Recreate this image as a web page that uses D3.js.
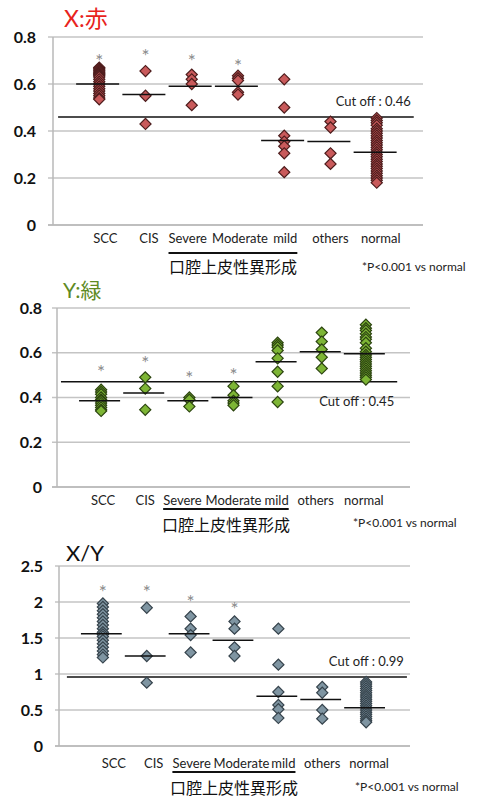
<!DOCTYPE html>
<html><head><meta charset="utf-8">
<script src="https://cdn.jsdelivr.net/npm/d3@7"></script>
<style>
body{margin:0;background:#fff;}
svg{display:block;}
text{font-family:Lato,"Noto Sans CJK JP",sans-serif;}
</style></head>
<body>
<svg id="c" width="481" height="797"></svg>
<script>
// ---------- data ----------
const categories = ["SCC","CIS","Severe","Moderate","mild","others","normal"];

// X:赤
const xSCC = [0.67,0.665,0.66,0.655,0.65,0.645,0.64,0.635,0.63,0.62,0.61,0.60,0.59,0.58,0.57,0.56,0.55,0.54,0.535];
const xCIS = [0.655,0.55,0.43];
const xSevere = [0.64,0.62,0.60,0.51];
const xModerate = [0.635,0.625,0.615,0.565,0.555];
const xMild = [0.62,0.50,0.38,0.355,0.335,0.305,0.225];
const xOthers = [0.44,0.415,0.305,0.26];
const xNormal = [0.455,0.445,0.435,0.425,0.41,0.40,0.39,0.38,0.37,0.36,0.35,0.34,0.33,0.32,0.31,0.30,0.29,0.28,0.27,0.26,0.25,0.24,0.23,0.22,0.21,0.20,0.19,0.18];
const xMeans = [0.60,0.555,0.59,0.59,0.36,0.355,0.31];
const xStars = [0.715,0.735,0.715,0.695];
const xCut = 0.46;
const xCutLabel = "Cut off :  0.46";
const xTicks = [0,0.2,0.4,0.6,0.8];

// Y:緑
const ySCC = [0.435,0.425,0.415,0.40,0.39,0.385,0.375,0.365,0.355,0.345,0.34];
const yCIS = [0.49,0.44,0.345];
const ySevere = [0.40,0.39,0.36];
const yModerate = [0.45,0.41,0.385,0.375,0.365];
const yMild = [0.645,0.635,0.625,0.61,0.575,0.515,0.45,0.38];
const yOthers = [0.69,0.65,0.615,0.58,0.53];
const yNormal = [0.725,0.71,0.70,0.685,0.67,0.66,0.645,0.62,0.605,0.59,0.58,0.57,0.56,0.55,0.54,0.53,0.52,0.51,0.50,0.49,0.48];
const yMeans = [0.385,0.42,0.385,0.40,0.56,0.605,0.595];
const yStars = [0.53,0.57,0.505,0.52];
const yCut = 0.47;
const yCutLabel = "Cut off : 0.45";
const yTicks = [0,0.2,0.4,0.6,0.8];

// X/Y
const rSCC = [1.98,1.93,1.88,1.83,1.78,1.73,1.68,1.63,1.58,1.55,1.52,1.47,1.42,1.37,1.32,1.27,1.23];
const rCIS = [1.92,1.25,0.88];
const rSevere = [1.80,1.63,1.54,1.30];
const rModerate = [1.73,1.63,1.37,1.25];
const rMild = [1.63,1.13,0.75,0.57,0.51,0.39];
const rOthers = [0.82,0.74,0.50,0.38];
const rNormal = [0.89,0.86,0.83,0.80,0.77,0.74,0.71,0.68,0.65,0.62,0.59,0.56,0.53,0.50,0.47,0.44,0.41,0.38,0.35,0.33];
const rMeans = [1.56,1.25,1.56,1.47,0.69,0.645,0.53];
const rStars = [2.2,2.19,2.06,1.96];
const rCut = 0.96;
const rCutLabel = "Cut off : 0.99";
const rTicks = [0,0.5,1,1.5,2,2.5];

const groupLabel = "口腔上皮性異形成";
const noteText = "*P<0.001 vs normal";

// ---------- layout ----------
const panels = [
  {title:"X:赤", titleColor:"#e8231d", titleX:64, titleY:27, titleSize:23,
   groups:[xSCC,xCIS,xSevere,xModerate,xMild,xOthers,xNormal], means:xMeans, stars:xStars,
   cut:xCut, cutLabel:xCutLabel, ticks:xTicks, domain:[0,0.8], fmt:d=>d===0?"0":d3.format(".1f")(d),
   yTop:37, yBot:225, axisX:53, gridL:48, right:423, tickR:36,
   cutI:[0.11,7.8], cutDy:-11, labelY:243, labelDx:[6,3.5,-4,2,1,0,4],
   ulY:253, jpY:273, noteX:362, noteY:271,
   fill:"#c95a5b", stroke:"#4d1c1c"},
  {title:"Y:緑", titleColor:"#5e8a23", titleX:63, titleY:298, titleSize:21,
   groups:[ySCC,yCIS,ySevere,yModerate,yMild,yOthers,yNormal], means:yMeans, stars:yStars,
   cut:yCut, cutLabel:yCutLabel, ticks:yTicks, domain:[0,0.8], fmt:d=>d===0?"0":d3.format(".1f")(d),
   yTop:308, yBot:487, axisX:57, gridL:52, right:410, tickR:42,
   cutI:[0.09,7.71], cutDy:24, labelY:505, labelDx:[2,0,-7,0,-1,-6,-2],
   ulY:509, jpY:531, noteX:353, noteY:527,
   fill:"#7db535", stroke:"#2c4410"},
  {title:"X/Y", titleColor:"#111", titleX:66, titleY:561, titleSize:22,
   groups:[rSCC,rCIS,rSevere,rModerate,rMild,rOthers,rNormal], means:rMeans, stars:rStars,
   cut:rCut, cutLabel:rCutLabel, ticks:rTicks, domain:[0,2.5], fmt:d=>String(d),
   yTop:566, yBot:746, axisX:59, gridL:55, right:410, tickR:43,
   cutI:[0.18,7.93], cutDy:-11, labelY:768, labelDx:[11,7,1,7,5,0,3],
   ulY:772, jpY:794, noteX:355, noteY:791,
   fill:"#7f95a2", stroke:"#36434c"}
];

const svg = d3.select("#c");
const diamond = d3.symbol().type(d3.symbolSquare).size(62);

panels.forEach(p => {
  const g = svg.append("g");
  const y = d3.scaleLinear().domain(p.domain).range([p.yBot, p.yTop]);
  const x = d3.scaleLinear().domain([0, categories.length + 1]).range([p.axisX, p.right]);
  const step = x(1) - x(0);

  // gridlines
  g.append("g").selectAll("line").data(p.ticks).join("line")
    .attr("x1", p.gridL).attr("x2", p.right)
    .attr("y1", d => y(d)).attr("y2", d => y(d))
    .attr("stroke", d => d === 0 ? "#aaa" : "#c4c4c4").attr("stroke-width", 1.5);
  // vertical axis
  g.append("line").attr("x1", p.axisX).attr("x2", p.axisX)
    .attr("y1", y(p.domain[1])).attr("y2", y(0))
    .attr("stroke", "#b8b8b8").attr("stroke-width", 1.5);
  // tick labels
  g.append("g").selectAll("text").data(p.ticks).join("text")
    .attr("x", p.tickR).attr("y", d => y(d)).attr("dy", "0.35em")
    .attr("text-anchor", "end").attr("font-size", 16).attr("font-weight", 700)
    .attr("fill", "#111").text(p.fmt);

  // title
  g.append("text").attr("x", p.titleX).attr("y", p.titleY)
    .attr("font-size", p.titleSize).attr("fill", p.titleColor).text(p.title);

  // cut-off line
  g.append("line").attr("x1", x(p.cutI[0])).attr("x2", x(p.cutI[1]))
    .attr("y1", y(p.cut)).attr("y2", y(p.cut))
    .attr("stroke", "#111").attr("stroke-width", 1.5);
  g.append("text").attr("x", x(p.cutI[1]) - 3).attr("y", y(p.cut) + p.cutDy)
    .attr("text-anchor", "end").attr("font-size", 13).attr("fill", "#222").text(p.cutLabel);

  // points
  p.groups.forEach((vals, i) => {
    g.append("g").selectAll("path").data(vals).join("path")
      .attr("d", diamond)
      .attr("transform", d => `translate(${x(i + 1)},${y(d)}) rotate(45)`)
      .attr("fill", p.fill).attr("stroke", p.stroke).attr("stroke-width", 1.2);
  });

  // mean lines
  g.append("g").selectAll("line").data(p.means).join("line")
    .attr("x1", (d, i) => x(i + 1) - step * 0.5)
    .attr("x2", (d, i) => x(i + 1) + step * 0.43)
    .attr("y1", d => y(d)).attr("y2", d => y(d))
    .attr("stroke", "#111").attr("stroke-width", 1.5);

  // significance stars
  g.append("g").selectAll("text").data(p.stars).join("text")
    .attr("x", (d, i) => x(i + 1)).attr("y", d => y(d) + 11)
    .attr("text-anchor", "middle").attr("font-size", 19).attr("fill", "#8a8a8a").text("*");

  // category labels
  const labs = g.append("g").selectAll("text").data(categories).join("text")
    .attr("x", (d, i) => x(i + 1) + p.labelDx[i]).attr("y", p.labelY)
    .attr("text-anchor", "middle").attr("font-size", 13).attr("fill", "#222").text(d => d);
  const nodes = labs.nodes();
  const sev = nodes[2], mild = nodes[4];
  const x0 = +sev.getAttribute("x") - sev.getComputedTextLength() / 2;
  const x1 = +mild.getAttribute("x") + mild.getComputedTextLength() / 2;
  g.append("line").attr("x1", x0).attr("x2", x1).attr("y1", p.ulY).attr("y2", p.ulY)
    .attr("stroke", "#111").attr("stroke-width", 2.2);
  g.append("text").attr("x", (x0 + x1) / 2).attr("y", p.jpY)
    .attr("text-anchor", "middle").attr("font-size", 16)
    .attr("font-family", "'Noto Sans CJK JP',sans-serif").attr("fill", "#111").text(groupLabel);
  g.append("text").attr("x", p.noteX).attr("y", p.noteY)
    .attr("font-size", 12).attr("fill", "#222").text(noteText);
});
</script>
</body></html>
